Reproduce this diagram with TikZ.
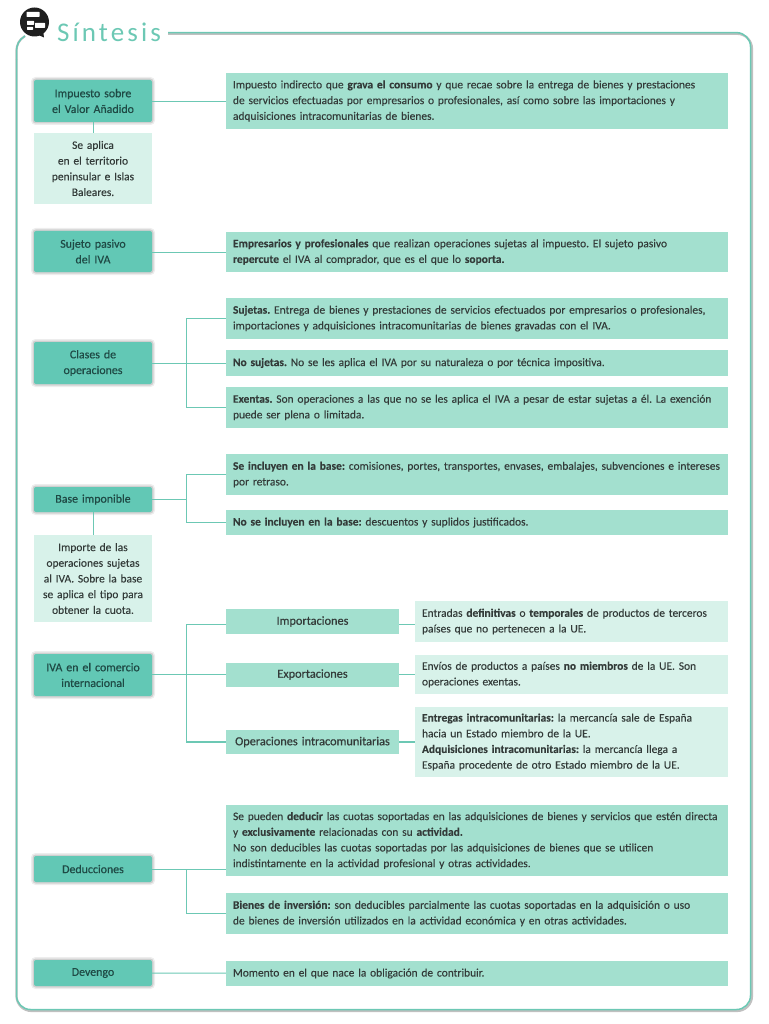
\documentclass[tikz,border=0pt]{standalone}
\usepackage{fontspec}
\setmainfont{Carlito}
\frenchspacing
\definecolor{headc}{HTML}{62C8B5}
\definecolor{boxc}{HTML}{A3E0CF}
\definecolor{lightc}{HTML}{D8F2EA}
\definecolor{linec}{HTML}{6CC8B4}
\definecolor{txtc}{HTML}{333B39}
\definecolor{headtxt}{HTML}{1F4A45}
\newcommand{\bodysize}{\fontsize{11.45}{15.7}\selectfont\addfontfeature{FakeBold=0.12}}
\newcommand{\headsize}{\fontsize{11.9}{15.7}\selectfont\addfontfeature{FakeBold=0.45}}
\newcommand{\midsize}{\fontsize{12.3}{15.7}\selectfont\addfontfeature{FakeBold=0.45}}
\tikzset{
  base/.style={inner sep=0pt,align=center,text=txtc,font=\bodysize},
  headbox/.style={base,text=headtxt,fill=headc,rounded corners=2pt,minimum width=118pt,text width=118pt,font=\headsize,
    preaction={draw=black,opacity=.07,line width=6pt,rounded corners=3pt},
    preaction={draw=black,opacity=.12,line width=3pt,rounded corners=2pt}},
  textbox/.style={base,fill=boxc,minimum width=502pt,text width=488pt,align=left},
  midbox/.style={base,fill=boxc,minimum width=173pt,text width=173pt,font=\midsize},
  notebox/.style={base,fill=lightc,minimum width=313pt,text width=299pt,align=left},
  sidebox/.style={base,fill=lightc,minimum width=118pt,text width=118pt},
  link/.style={draw=linec,line width=.9pt},
  linkb/.style={draw=linec,line width=1.4pt},
}
\begin{document}
\begin{tikzpicture}[x=1pt,y=-1pt]
\useasboundingbox (0,0) rectangle (768,1024);
% panel
\draw[black!45,line width=2.2pt,line join=round,opacity=.55,rounded corners=15pt] (168,33.8) -- (752,33.8) -- (752,1011) -- (16.5,1011) -- (16.5,60);
\draw[black!45,line width=2.2pt,opacity=.55] (16.5,60) -- (16.5,52) .. controls (16.5,44) and (19,40) .. (25,36);
\draw[linec,line width=1.5pt,rounded corners=14pt] (168,32.6) -- (750.5,32.6) -- (750.5,1009.5) -- (16.5,1009.5) -- (16.5,60);
\draw[linec,line width=1.5pt] (16.5,60) -- (16.5,52) .. controls (16.5,44) and (19,40) .. (25,36);
% icon
\fill[black!88] (34.5,22) circle (14.5);
\fill[black!88] (34,33) -- (44,37.5) -- (43,30) -- cycle;
\foreach \x/\y/\w/\h in {26.5/12/13/5, 27/21/7/4, 35/23/10/5, 27/27/6/3}
  \fill[white,rounded corners=.5pt] (\x,\y) rectangle ++(\w,\h);
\node[inner sep=0pt,anchor=base west,text=linec] (title) at (57,42) {\fontsize{27}{30}\selectfont\addfontfeature{LetterSpace=11.5}Síntesis};

% row 1
\node[headbox,minimum height=42pt] (iva) at (93,101) {Impuesto sobre\\el Valor Añadido};
\node[textbox,minimum height=56pt] (ivat) at (477,101) {Impuesto indirecto que \textbf{grava el consumo} y que recae sobre la entrega de bienes y prestaciones\\de servicios efectuadas por empresarios o profesionales, así como sobre las importaciones y\\adquisiciones intracomunitarias de bienes.};
\node[sidebox,minimum height=71pt] (ivas) at (93,168.5) {Se aplica\\en el territorio\\peninsular e Islas\\Baleares.};
\draw[link] (iva) -- (ivat);
\draw[link] (iva) -- (ivas);
% row 2
\node[headbox,minimum height=41pt] (suj) at (93,251.5) {Sujeto pasivo\\del IVA};
\node[textbox,minimum height=40pt] (sujt) at (477,252) {\textbf{Empresarios y profesionales} que realizan operaciones sujetas al impuesto. El sujeto pasivo\\\textbf{repercute} el IVA al comprador, que es el que lo \textbf{soporta.}};
\draw[link] (suj.east |- sujt) -- (sujt);
% row 3
\node[headbox,minimum height=42pt] (cla) at (93,363) {Clases de\\operaciones};
\node[textbox,minimum height=41pt] (cla1) at (477,318.5) {\textbf{Sujetas.} Entrega de bienes y prestaciones de servicios efectuados por empresarios o profesionales,\\importaciones y adquisiciones intracomunitarias de bienes gravadas con el IVA.};
\node[textbox,minimum height=26pt] (cla2) at (477,363) {\textbf{No sujetas.} No se les aplica el IVA por su naturaleza o por técnica impositiva.};
\node[textbox,minimum height=41pt] (cla3) at (477,407.5) {\textbf{Exentas.} Son operaciones a las que no se les aplica el IVA a pesar de estar sujetas a él. La exención\\puede ser plena o limitada.};
\coordinate (s3) at (186,363);
\draw[link] (cla) -- (cla2);
\draw[link] (s3) |- (cla1);
\draw[link] (s3) |- (cla3);
% row 4
\node[headbox,minimum height=25pt] (bas) at (93,499.5) {Base imponible};
\node[textbox,minimum height=41pt] (bas1) at (477,474.5) {\textbf{Se incluyen en la base:} comisiones, portes, transportes, envases, embalajes, subvenciones e intereses\\por retraso.};
\node[textbox,minimum height=25pt] (bas2) at (477,522.5) {\textbf{No se incluyen en la base:} descuentos y suplidos justificados.};
\node[sidebox,minimum height=87pt] (bass) at (93,578.5) {Importe de las\\operaciones sujetas\\al IVA. Sobre la base\\se aplica el tipo para\\obtener la cuota.};
\coordinate (s4) at (186,499.5);
\draw[linkb] (bas) -- (s4);
\draw[link] (s4) |- (bas1);
\draw[link] (s4) |- (bas2);
\draw[link] (bas) -- (bass);
% row 5
\node[headbox,minimum height=42pt] (int) at (93,675) {IVA en el comercio\\internacional};
\node[midbox,minimum height=25pt] (imp) at (312.5,621.5) {Importaciones};
\node[midbox,minimum height=24pt] (exp) at (312.5,674.5) {Exportaciones};
\node[midbox,minimum height=24pt] (ope) at (312.5,742) {Operaciones intracomunitarias};
\node[notebox,minimum height=41pt] (impn) at (571.5,621.5) {Entradas \textbf{definitivas} o \textbf{temporales} de productos de terceros\\países que no pertenecen a la UE.};
\node[notebox,minimum height=39pt] (expn) at (571.5,674.5) {Envíos de productos a países \textbf{no miembros} de la UE. Son\\operaciones exentas.};
\node[notebox,minimum height=70pt] (open) at (571.5,742) {\textbf{Entregas intracomunitarias:} la mercancía sale de España\\hacia un Estado miembro de la UE.\\\textbf{Adquisiciones intracomunitarias:} la mercancía llega a\\España procedente de otro Estado miembro de la UE.};
\coordinate (s5) at (186,674.5);
\coordinate (s5top) at (186,624);
\coordinate (s5bot) at (186,742);
\draw[linkb] (int.east |- exp) -- (exp);
\draw[link] (s5top) -- (s5bot);
\draw[link] (s5top) -- (s5top -| imp.west);
\draw[linkb] (s5bot) -- (ope);
\draw[link] (imp.east |- s5top) -- (impn.west |- s5top);
\draw[linkb] (exp) -- (expn);
\draw[linkb] (ope) -- (open);
% row 6
\node[headbox,minimum height=26pt] (ded) at (93,869) {Deducciones};
\node[textbox,minimum height=71pt] (ded1) at (477,840.5) {Se pueden \textbf{deducir} las cuotas soportadas en las adquisiciones de bienes y servicios que estén directa\\y \textbf{exclusivamente} relacionadas con su \textbf{actividad.}\\No son deducibles las cuotas soportadas por las adquisiciones de bienes que se utilicen\\indistintamente en la actividad profesional y otras actividades.};
\node[textbox,minimum height=41pt] (ded2) at (477,913.5) {\textbf{Bienes de inversión:} son deducibles parcialmente las cuotas soportadas en la adquisición o uso\\de bienes de inversión utilizados en la actividad económica y en otras actividades.};
\coordinate (s6) at (186,869);
\draw[link] (ded) -- (ded.east -| ded1.west);
\draw[link] (s6) |- (ded2);
% row 7
\node[headbox,minimum height=26pt] (dev) at (93,973) {Devengo};
\node[textbox,minimum height=25pt] (devt) at (477,973.5) {Momento en el que nace la obligación de contribuir.};
\draw[link] (dev) -- (devt);
\end{tikzpicture}
\end{document}
